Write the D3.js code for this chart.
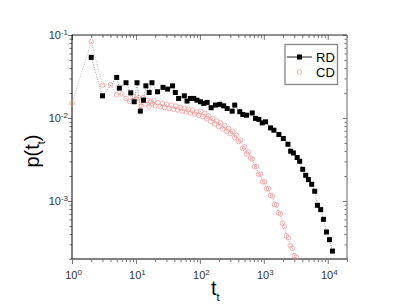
<!DOCTYPE html>
<html>
<head>
<meta charset="utf-8">
<script src="https://cdn.jsdelivr.net/npm/d3@7"></script>
<style>
  body { margin: 0; background: #fff; }
  svg { display: block; font-family: Arial, "Liberation Sans", sans-serif; }
</style>
</head>
<body>
<div id="chart"></div>
<script>
// RD series (black squares)
const rdT = [2, 3, 5, 5.5, 7, 8.3, 9.4, 10.4, 11.7, 13.1, 14.3, 16.1, 17.8, 21.8, 26.5,
  31.3, 37.4, 41.3, 46.5, 57.1, 63, 71, 80, 90, 102, 115, 130, 150, 175, 205,
  236, 267, 320, 351, 421, 469, 536, 659, 742, 836, 946, 1065, 1275, 1438, 1722,
  2019, 2386, 2630, 2900, 3326, 3640, 4055, 4520, 4980, 5610, 6250, 6890, 7760, 8560, 9550,
  10640, 11850];
const rdP = [0.0538, 0.0185, 0.0308, 0.0229, 0.0266, 0.0201, 0.0157, 0.0266, 0.0121, 0.0164,
  0.0244, 0.0203, 0.0266, 0.0207, 0.0234, 0.0223, 0.0244, 0.0203, 0.0172, 0.0185,
  0.0160, 0.0172, 0.0172, 0.0164, 0.0157, 0.0150, 0.0154, 0.0133, 0.0143, 0.0146,
  0.0140, 0.0130, 0.0121, 0.0143, 0.0119, 0.0110, 0.0108, 0.0115, 0.00989, 0.00962,
  0.00874, 0.00899, 0.0076, 0.00713, 0.00632, 0.00566, 0.00483, 0.00398, 0.00379, 0.00334,
  0.00301, 0.00241, 0.00204, 0.00181, 0.00159, 0.00131, 0.000887, 0.000787, 0.000601, 0.000423,
  0.000342, 0.000249];

// CD series (open red circles)
const cdT = [1, 2, 3, 4, 5, 6, 7, 8, 9, 10, 11, 12, 13, 14, 15, 16, 17, 18, 19, 20,
  22, 24, 26, 28, 30, 33, 36, 39, 42, 45, 49, 53, 57, 61, 66, 71, 77, 83, 89, 96,
  103, 111, 119, 128, 137, 148, 159, 170, 183, 197, 211, 227, 244, 262, 281, 302, 325, 349, 375, 403,
  433, 465, 500, 537, 577, 620, 666, 716, 769, 826, 888, 954, 1025, 1101, 1183, 1271, 1365, 1466, 1575, 1692,
  1817, 1952, 2097, 2252, 2419, 2598, 2790, 2997, 3219];
const cdP = [0.0151, 0.083, 0.0249, 0.0252, 0.0190, 0.0196, 0.0172, 0.0158, 0.0182, 0.0168,
  0.0176, 0.0140, 0.0175, 0.0148, 0.0162, 0.0137, 0.0157, 0.0149, 0.0163, 0.0140,
  0.0153, 0.0137, 0.0150, 0.0134, 0.0146, 0.0130, 0.0143, 0.0127, 0.0139, 0.0125,
  0.0134, 0.0121, 0.0130, 0.0118, 0.0127, 0.0115, 0.0123, 0.0112, 0.0118, 0.0108,
  0.0120, 0.0104, 0.0114, 0.0098, 0.0106, 0.0091, 0.0099, 0.0085, 0.0092, 0.0079,
  0.0087, 0.0074, 0.0081, 0.0069, 0.0075, 0.0065, 0.0069, 0.0058, 0.0062, 0.0052,
  0.0054, 0.0043, 0.0045, 0.0037, 0.0039, 0.0033, 0.0032, 0.0026, 0.0026, 0.0021,
  0.0021, 0.00170, 0.00170, 0.00140, 0.00141, 0.00117, 0.00114, 0.00091, 0.00090, 0.00072,
  0.00070, 0.00054, 0.00049, 0.00038, 0.00036, 0.00029, 0.00027, 0.00022, 0.00021];

const seriesNames = ['RD', 'CD'];
const xMajor = [1, 10, 100, 1000, 10000];
const yMajor = [1e-3, 1e-2, 1e-1];

const width = 403, height = 306;
const plot = { left: 72, top: 35, right: 347, bottom: 259 };

const svg = d3.select('#chart').append('svg')
  .attr('width', width)
  .attr('height', height);

const x = d3.scaleLog().domain([1, 2e4]).range([plot.left, plot.right]);
const y = d3.scaleLog().domain([2e-4, 0.1]).range([plot.bottom, plot.top]);

const xMinor = x.ticks().filter(v => !xMajor.includes(v));
const yMinor = y.ticks().filter(v => !yMajor.some(m => Math.abs(m - v) < m * 1e-6));

const rd = rdT.map((t, i) => ({ t, p: rdP[i] }));
const cd = cdT.map((t, i) => ({ t, p: cdP[i] }));

// Axes: ticks on top/right mirror bottom/left (Origin style)
function drawAxis(axisFn, scale, major, minor, transform, majorLen, minorLen) {
  const g = svg.append('g').attr('transform', transform);
  g.call(axisFn(scale).tickValues(minor).tickSize(minorLen).tickSizeOuter(0).tickFormat(''));
  g.select('.domain').remove();
  const g2 = svg.append('g').attr('transform', transform);
  g2.call(axisFn(scale).tickValues(major).tickSize(majorLen).tickSizeOuter(0).tickFormat(''));
  g2.select('.domain').remove();
}

drawAxis(d3.axisBottom, x, xMajor, xMinor, `translate(0,${plot.bottom})`, 5, 3);
drawAxis(d3.axisTop, x, xMajor, xMinor, `translate(0,${plot.top})`, -5, -3);
drawAxis(d3.axisLeft, y, yMajor, yMinor, `translate(${plot.left},0)`, 4, 2.5);
drawAxis(d3.axisRight, y, yMajor, yMinor, `translate(${plot.right},0)`, -4, -2.5);
svg.selectAll('.tick line').attr('stroke', '#777');

// frame
svg.append('line').attr('x1', plot.left).attr('x2', plot.right).attr('y1', plot.top).attr('y2', plot.top)
  .attr('stroke', '#222').attr('stroke-width', 1);
svg.append('line').attr('x1', plot.right).attr('x2', plot.right).attr('y1', plot.top).attr('y2', plot.bottom)
  .attr('stroke', '#888').attr('stroke-width', 1.3);
svg.append('line').attr('x1', plot.left - 1).attr('x2', plot.right + 1).attr('y1', plot.bottom).attr('y2', plot.bottom)
  .attr('stroke', '#808080').attr('stroke-width', 2);
svg.append('line').attr('x1', plot.left).attr('x2', plot.left).attr('y1', plot.top).attr('y2', plot.bottom)
  .attr('stroke', '#000').attr('stroke-width', 1);

// tick labels
const labelColor = '#333';
xMajor.forEach(v => {
  const t = svg.append('text')
    .attr('x', x(v) + 1.5).attr('y', plot.bottom + 20)
    .attr('text-anchor', 'middle')
    .attr('font-size', 11).attr('fill', labelColor)
    .text('10');
  t.append('tspan').attr('dy', -4).attr('font-size', 8).text(Math.round(Math.log10(v)));
});
yMajor.forEach(v => {
  const t = svg.append('text')
    .attr('x', plot.left - 4).attr('y', y(v) + 4)
    .attr('text-anchor', 'end')
    .attr('font-size', 11).attr('fill', labelColor)
    .text('10');
  t.append('tspan').attr('dy', -4).attr('font-size', 8).text(Math.round(Math.log10(v)));
});

// axis titles
const xt = svg.append('text')
  .attr('x', 211).attr('y', 295)
  .attr('font-size', 20).attr('fill', '#000')
  .text('t');
xt.append('tspan').attr('dy', 6).attr('font-size', 11).text('t');

const yt = svg.append('text')
  .attr('transform', 'translate(39,151) rotate(-90)')
  .attr('text-anchor', 'middle')
  .attr('font-size', 20).attr('fill', '#000')
  .text('p(t');
yt.append('tspan').attr('dy', 6).attr('font-size', 11).text('t');
yt.append('tspan').attr('dy', -6).text(')');

// lines + markers
const line = d3.line().x(d => x(d.t)).y(d => y(d.p));
const cdColor = '#ff9090';

svg.append('path').datum(cd)
  .attr('d', line).attr('fill', 'none')
  .attr('stroke', '#aaa').attr('stroke-width', 0.8).attr('stroke-dasharray', '1,1.5');

svg.append('g').selectAll('circle')
  .data(cd)
  .join('circle')
  .attr('cx', d => x(d.t))
  .attr('cy', d => y(d.p))
  .attr('r', 2.3)
  .attr('fill', 'none')
  .attr('stroke', cdColor)
  .attr('stroke-width', 0.7);

svg.append('path').datum(rd)
  .attr('d', line).attr('fill', 'none')
  .attr('stroke', '#777').attr('stroke-width', 0.8).attr('stroke-dasharray', '1,1.5');

const sq = 5;
svg.append('g').selectAll('rect')
  .data(rd)
  .join('rect')
  .attr('x', d => x(d.t) - sq / 2)
  .attr('y', d => y(d.p) - sq / 2)
  .attr('width', sq).attr('height', sq)
  .attr('fill', '#000');

// legend
const lg = svg.append('g');
lg.append('rect')
  .attr('x', 285).attr('y', 44.5).attr('width', 52.5).attr('height', 40)
  .attr('fill', '#fff').attr('stroke', '#888').attr('stroke-width', 1.3);
lg.append('line').attr('x1', 287).attr('x2', 312).attr('y1', 57).attr('y2', 57)
  .attr('stroke', '#222').attr('stroke-width', 1);
lg.append('rect').attr('x', 299.5 - sq / 2).attr('y', 57 - sq / 2).attr('width', sq).attr('height', sq).attr('fill', '#000');
lg.append('circle').attr('cx', 299.5).attr('cy', 72).attr('r', 2.3)
  .attr('fill', 'none').attr('stroke', cdColor).attr('stroke-width', 0.7);
lg.selectAll('text.lbl')
  .data(seriesNames)
  .join('text')
  .attr('class', 'lbl')
  .attr('x', 316)
  .attr('y', (d, i) => 61.5 + i * 15)
  .attr('font-size', 13)
  .attr('fill', '#000')
  .text(d => d);
</script>
</body>
</html>
